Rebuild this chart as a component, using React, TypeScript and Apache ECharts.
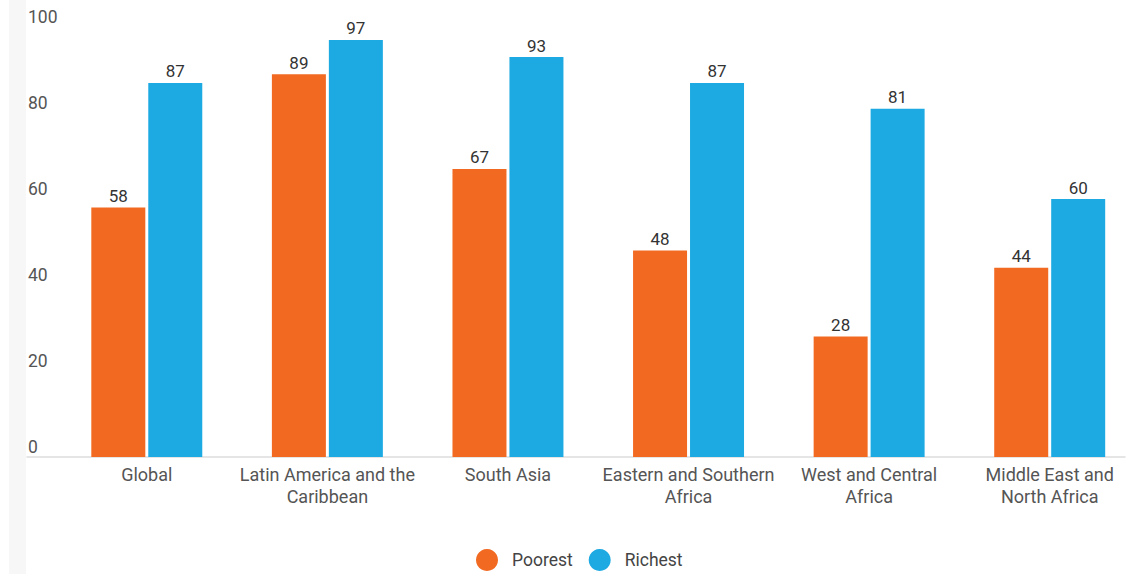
import React, { useEffect, useRef } from "react";
import * as echarts from "echarts";

const categories = [
  "Global",
  "Latin America and the\nCaribbean",
  "South Asia",
  "Eastern and Southern\nAfrica",
  "West and Central\nAfrica",
  "Middle East and\nNorth Africa",
];
const poorest = [58, 89, 67, 48, 28, 44];
const richest = [87, 97, 93, 87, 81, 60];
const seriesNames = ["Poorest", "Richest"];
const colors = ["#F26A21", "#1DAAE2"];

export default function App() {
  const ref = useRef<HTMLDivElement>(null);
  useEffect(() => {
    if (!ref.current) return;
    const chart = echarts.init(ref.current, null, { renderer: "svg" });
    const font = "Roboto, 'Noto Sans', sans-serif";
    const labelStyle = {
      show: true,
      position: "top",
      distance: 3,
      fontFamily: font,
      fontSize: 17,
      color: "#333",
    };
    chart.setOption({
      animation: false,
      textStyle: { fontFamily: font },
      graphic: [
        {
          type: "rect",
          shape: { x: 9, y: 0, width: 17, height: 574 },
          style: { fill: "#f7f7f7" },
          silent: true,
          z: -10,
        },
      ],
      legend: {
        data: seriesNames,
        left: 471,
        top: 544,
        icon: "circle",
        itemWidth: 22,
        itemHeight: 22,
        itemGap: 16,
        textStyle: {
          fontFamily: font,
          fontSize: 17.5,
          color: "#444",
          padding: [0, 0, 0, 9],
        },
      },
      grid: [
        { left: 56.5, width: 1086, top: 27, bottom: 117 },
        { left: 27, right: 15, top: 27, bottom: 117 },
      ],
      xAxis: [
        {
          type: "category",
          gridIndex: 0,
          data: categories,
          axisLine: { show: false },
          axisTick: { show: false },
          axisLabel: {
            margin: 6,
            fontFamily: font,
            fontSize: 18,
            color: "#555",
            lineHeight: 22,
            interval: 0,
          },
        },
        {
          type: "category",
          gridIndex: 1,
          data: [""],
          axisLine: { show: true, lineStyle: { color: "#dddddd", width: 1.5 } },
          axisTick: { show: false },
          axisLabel: { show: false },
        },
      ],
      yAxis: [
        {
          type: "value",
          gridIndex: 0,
          min: 0,
          max: 100,
          interval: 20,
          show: false,
          splitLine: { show: false },
        },
        {
          type: "value",
          gridIndex: 1,
          min: 0,
          max: 100,
          interval: 20,
          axisLine: { show: false },
          axisTick: { show: false },
          splitLine: { show: false },
          axisLabel: {
            inside: true,
            margin: 1,
            verticalAlign: "bottom",
            padding: [0, 0, 1, 0],
            fontFamily: font,
            fontSize: 17.5,
            color: "#555",
          },
        },
      ],
      series: [
        {
          name: seriesNames[0],
          type: "bar",
          data: poorest,
          barWidth: 54,
          barGap: "5.5%",
          itemStyle: { color: colors[0] },
          label: labelStyle,
        },
        {
          name: seriesNames[1],
          type: "bar",
          data: richest,
          barWidth: 54,
          barGap: "5.5%",
          itemStyle: { color: colors[1] },
          label: labelStyle,
        },
      ],
    });
    return () => chart.dispose();
  }, []);
  return (
    <div
      ref={ref}
      style={{ position: "fixed", left: 0, top: 0, width: 1140, height: 574, background: "#fff" }}
    />
  );
}
